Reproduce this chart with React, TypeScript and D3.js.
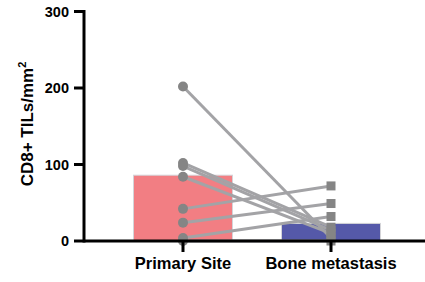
import { useMemo } from 'react';
import * as d3 from 'd3';

// Paired CD8+ TIL densities (cells/mm²), one line per patient
const categories = ['Primary Site', 'Bone metastasis'];
const primaryValues = [202, 102, 98, 84, 42, 24, 4, 0];
const boneValues = [4, 18, 14, 10, 72, 49, 32, 0];
const barMeans = [86, 23];
const yTicks = [0, 100, 200, 300];

const W = 425;
const H = 282;
const FONT = '"Liberation Sans", Arial, Helvetica, sans-serif';

export default function App() {
  const y = useMemo(() => d3.scaleLinear().domain([0, 300]).range([241, 11.5]), []);
  const x = useMemo(() => d3.scalePoint<string>().domain(categories).range([183, 331]), []);
  const barW = 99;
  const axisX = 84;

  const pairs = primaryValues.map((p, i) => ({ p, b: boneValues[i] }));
  const line = d3
    .line<[string, number]>()
    .x((d) => x(d[0]) ?? 0)
    .y((d) => y(d[1]));

  return (
    <div style={{ position: 'fixed', left: 0, top: 0 }}>
      <svg width={W} height={H} style={{ display: 'block', background: '#fff' }} fontFamily={FONT}>
        {/* bars (means) */}
        {categories.map((c, i) => (
          <rect
            key={c}
            x={(x(c) ?? 0) - barW / 2}
            y={y(barMeans[i])}
            width={barW}
            height={y(0) - y(barMeans[i])}
            fill={i === 0 ? '#f27e83' : '#5559a9'}
            stroke="#d4d4d8"
            strokeWidth={1}
          />
        ))}

        {/* paired lines */}
        {pairs.map((d, i) => (
          <path
            key={i}
            d={line([
              [categories[0], d.p],
              [categories[1], d.b],
            ]) ?? ''}
            fill="none"
            stroke="#a3a3a6"
            strokeWidth={3}
          />
        ))}

        {/* primary points */}
        {primaryValues.map((v, i) => (
          <circle key={i} cx={x(categories[0])} cy={y(v)} r={5} fill="#858585" />
        ))}
        {/* bone points */}
        {boneValues.map((v, i) => (
          <rect key={i} x={(x(categories[1]) ?? 0) - 4.5} y={y(v) - 4.5} width={9} height={9} fill="#858585" />
        ))}

        {/* y axis */}
        <line x1={axisX} x2={axisX} y1={y(300) - 1.5} y2={y(0) + 1.5} stroke="#000" strokeWidth={3} />
        {yTicks.map((t) => (
          <g key={t} transform={`translate(0,${y(t)})`}>
            <line x1={axisX - 10} x2={axisX} stroke="#000" strokeWidth={3} />
            <text
              x={axisX - 15}
              dy="0.36em"
              textAnchor="end"
              fontSize={14.5}
              fontWeight="bold"
            >
              {t}
            </text>
          </g>
        ))}

        {/* x axis */}
        <line x1={axisX} x2={W} y1={y(0)} y2={y(0)} stroke="#000" strokeWidth={3} />
        {categories.map((c) => (
          <g key={c} transform={`translate(${x(c)},${y(0)})`}>
            <line y1={0} y2={11} stroke="#000" strokeWidth={3} />
            <text y={28} textAnchor="middle" fontSize={16.5} fontWeight="bold">
              {c}
            </text>
          </g>
        ))}

        {/* y label */}
        <text
          transform={`translate(33,124) rotate(-90)`}
          textAnchor="middle"
          fontSize={17}
          fontWeight="bold"
        >
          CD8+ TILs/mm
          <tspan dy={-7} fontSize={11}>
            2
          </tspan>
        </text>
      </svg>
    </div>
  );
}
